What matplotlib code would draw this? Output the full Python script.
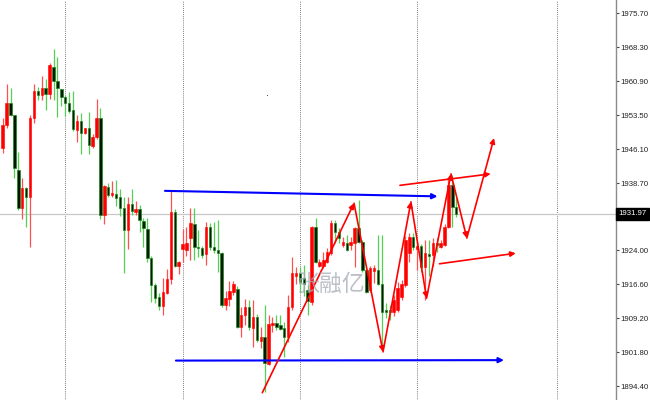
import numpy as np
import matplotlib
matplotlib.use("Agg")
import matplotlib.pyplot as plt

# ── bar data (oldest first) ────────────────────────────────────────────────
opens = [1946.4, 1951.4, 1956.1, 1953.5, 1941.5, 1933.2, 1937.6, 1935.7, 1952.8, 1958.8,
         1957.8, 1959.4, 1958.2, 1963.9, 1960.9, 1959.1, 1957.4, 1956.1, 1954.6, 1950.3,
         1952.3, 1949.7, 1950.8, 1946.8, 1948.7, 1952.8, 1931.7, 1937.9, 1936.1, 1936.3,
         1935.6, 1933.2, 1928.5, 1934.1, 1932.4, 1933.0, 1930.5, 1928.6, 1922.3, 1916.5,
         1913.9, 1911.9, 1914.8, 1917.7, 1932.3, 1920.7, 1924.3, 1924.1, 1926.8, 1929.8,
         1924.8, 1924.5, 1923.2, 1929.2, 1924.8, 1924.1, 1923.5, 1912.1, 1913.4, 1915.0,
         1915.7, 1907.4, 1909.9, 1911.6, 1907.2, 1909.6, 1904.3, 1905.2, 1899.2, 1907.7,
         1908.1, 1907.7, 1907.0, 1905.1, 1911.7, 1918.5, 1919.0, 1917.9, 1915.4, 1912.8,
         1929.2, 1920.7, 1920.6, 1921.5, 1923.4, 1929.9, 1928.1, 1925.3, 1925.6, 1925.2,
         1925.6, 1928.8, 1925.9, 1919.7, 1915.4, 1919.5, 1919.7, 1916.8, 1911.0, 1910.9,
         1910.6, 1911.0, 1913.9, 1916.5, 1923.4, 1927.0, 1924.3, 1925.0, 1920.4, 1923.2,
         1923.0, 1925.6, 1924.8, 1925.2, 1929.2, 1938.3, 1933.5]
highs = [1952.8, 1960.3, 1959.4, 1953.6, 1945.4, 1939.9, 1937.8, 1953.5, 1960.3, 1959.6,
         1962.0, 1961.4, 1964.8, 1967.9, 1966.1, 1959.2, 1957.9, 1958.5, 1958.8, 1953.5,
         1953.9, 1950.8, 1954.2, 1949.4, 1957.0, 1955.0, 1938.3, 1938.7, 1939.1, 1939.4,
         1937.3, 1935.7, 1935.7, 1937.5, 1934.8, 1933.9, 1931.0, 1931.0, 1922.8, 1916.9,
         1914.7, 1917.9, 1919.9, 1937.2, 1933.0, 1921.7, 1928.6, 1929.1, 1933.2, 1933.2,
         1928.5, 1925.0, 1930.3, 1929.9, 1930.2, 1930.6, 1923.7, 1915.2, 1917.3, 1917.4,
         1916.3, 1911.7, 1913.4, 1913.2, 1913.2, 1910.1, 1907.4, 1912.1, 1909.9, 1909.6,
         1909.9, 1909.9, 1908.5, 1914.3, 1922.6, 1920.5, 1920.5, 1920.8, 1916.5, 1929.3,
         1931.0, 1922.1, 1923.7, 1924.5, 1930.6, 1930.6, 1928.9, 1927.0, 1927.4, 1927.0,
         1929.1, 1935.0, 1926.3, 1920.2, 1920.6, 1920.8, 1927.4, 1927.4, 1912.5, 1912.1,
         1914.3, 1917.1, 1917.5, 1927.2, 1927.8, 1927.8, 1925.8, 1925.4, 1926.3, 1926.3,
         1926.7, 1926.7, 1926.3, 1929.8, 1939.4, 1940.5, 1935.4]
lows = [1945.2, 1950.7, 1953.3, 1939.8, 1932.8, 1930.9, 1929.1, 1924.8, 1951.8, 1956.8,
        1956.8, 1954.6, 1957.0, 1956.8, 1953.2, 1955.5, 1953.3, 1953.9, 1950.0, 1947.7,
        1945.0, 1949.5, 1945.0, 1946.3, 1948.2, 1930.9, 1929.8, 1935.7, 1935.7, 1933.7,
        1931.5, 1919.1, 1924.3, 1931.7, 1931.7, 1928.0, 1924.8, 1921.5, 1912.8, 1912.6,
        1911.0, 1909.9, 1914.5, 1916.7, 1920.5, 1918.9, 1921.5, 1922.8, 1921.9, 1921.9,
        1922.6, 1922.3, 1920.8, 1924.1, 1923.4, 1919.4, 1911.7, 1911.0, 1911.9, 1914.3,
        1907.1, 1905.2, 1907.8, 1906.7, 1903.0, 1904.0, 1902.7, 1893.2, 1899.0, 1906.3,
        1906.7, 1906.7, 1900.8, 1904.0, 1911.0, 1916.8, 1915.0, 1914.1, 1909.9, 1912.1,
        1921.2, 1920.4, 1920.2, 1921.3, 1923.0, 1925.6, 1925.6, 1924.8, 1923.9, 1924.1,
        1920.5, 1925.6, 1919.3, 1914.7, 1914.9, 1916.9, 1916.5, 1902.5, 1909.3, 1908.8,
        1909.7, 1910.5, 1913.2, 1916.0, 1921.5, 1924.1, 1919.7, 1919.3, 1913.2, 1918.4,
        1920.6, 1923.7, 1924.5, 1925.0, 1928.9, 1929.2, 1931.3]
closes = [1951.4, 1956.1, 1953.5, 1941.9, 1933.3, 1937.7, 1935.7, 1952.8, 1958.8, 1958.0,
          1959.4, 1958.1, 1964.4, 1961.0, 1959.4, 1957.4, 1956.1, 1954.5, 1950.4, 1952.3,
          1949.6, 1950.6, 1947.0, 1948.8, 1952.8, 1931.7, 1938.1, 1936.1, 1936.5, 1935.4,
          1933.2, 1928.5, 1934.1, 1932.7, 1933.0, 1930.6, 1928.8, 1922.3, 1916.5, 1913.6,
          1911.9, 1914.9, 1917.8, 1932.3, 1920.7, 1921.5, 1925.4, 1925.7, 1929.9, 1924.8,
          1924.5, 1923.0, 1929.2, 1924.8, 1924.0, 1923.5, 1912.1, 1913.6, 1915.2, 1916.7,
          1907.4, 1909.9, 1911.6, 1907.4, 1909.6, 1904.5, 1905.2, 1899.4, 1908.0, 1908.1,
          1907.4, 1906.8, 1905.1, 1911.7, 1919.0, 1919.0, 1917.2, 1916.8, 1913.0, 1929.2,
          1921.5, 1921.5, 1921.9, 1923.7, 1929.9, 1928.1, 1926.7, 1925.9, 1924.1, 1925.8,
          1928.8, 1925.9, 1919.7, 1915.0, 1920.2, 1920.1, 1916.8, 1910.6, 1910.6, 1910.6,
          1913.2, 1915.8, 1916.8, 1926.3, 1927.0, 1924.8, 1924.9, 1920.4, 1923.4, 1922.9,
          1925.6, 1925.2, 1925.7, 1929.2, 1938.3, 1933.5, 1931.97]

last_price = 1931.97
tick_values = [1975.70, 1968.30, 1960.90, 1953.50, 1946.10, 1938.70,
               1924.00, 1916.60, 1909.20, 1901.80, 1894.40]
tick_labels = ["1975.70", "1968.30", "1960.90", "1953.50", "1946.10", "1938.70",
               "1924.00", "1916.60", "1909.20", "1901.80", "1894.40"]
separator_bars = [16, 46, 76, 106, 141.7]

# hand-drawn objects: (bar, price) start -> end
blue_lines = [((41.5, 1937.0), (111.2, 1935.8)),
              ((44.3, 1900.0), (128.2, 1900.1))]
zigzag_bar = [66.4, 89.85, 97.26, 104.4, 108.4, 114.65, 118.7, 125.65]
zigzag_px = [1893.0, 1934.3, 1901.9, 1934.6, 1913.6, 1940.7, 1926.7, 1948.5]
red_lines = [((101.6, 1938.2), (124.8, 1940.7)),
             ((111.7, 1921.1), (131.2, 1923.4))]

# ── figure ─────────────────────────────────────────────────────────────────
fig = plt.figure(figsize=(6.5, 4.0), dpi=100)
ax = fig.add_axes([0, 0, 616 / 650, 1])
ax.set_xlim(-0.69, 156.85)
ax.set_ylim(1891.41, 1978.60)

for s in ["top", "left", "bottom"]:
    ax.spines[s].set_visible(False)
ax.spines["right"].set_color("#8c8c8c")
ax.spines["right"].set_linewidth(1.0)
ax.set_xticks([])
ax.yaxis.tick_right()
ax.set_yticks(tick_values)
ax.set_yticklabels(tick_labels)
ax.tick_params(axis="y", length=2, width=0.8, color="#444444", pad=1.2,
               labelsize=5.6, labelcolor="#222222")
for lab in ax.get_yticklabels():
    lab.set_fontfamily("Liberation Sans")

# period separators and current price line
for b in separator_bars:
    ax.axvline(b, color="#555555", lw=0.6, ls=(0, (1, 1.5)), zorder=1)
ax.axhline(last_price, color="#c8c8c8", lw=0.9, zorder=1)

# candles
x = np.arange(len(opens))
o = np.array(opens); h = np.array(highs); l = np.array(lows); c = np.array(closes)
up = c >= o
ax.vlines(x[up], l[up], h[up], color="#ff5050", lw=0.9, zorder=2)
ax.vlines(x[~up], l[~up], h[~up], color="#55d055", lw=0.9, zorder=2)
body_lo = np.minimum(o, c)
body_h = np.maximum(np.abs(c - o), 0.35)
ax.bar(x[up], body_h[up], bottom=body_lo[up], width=0.62,
       color="#ff0000", edgecolor="#ff0000", lw=0.4, zorder=3)
ax.bar(x[~up], body_h[~up], bottom=body_lo[~up], width=0.62,
       color="#001a00", edgecolor="#1f8a1f", lw=0.5, zorder=3)

# stray dot
ax.plot([67.6], [1957.9], marker="s", ms=0.7, color="#555555", mew=0, zorder=3)

def arrow(p0, p1, color, lw, head=7.5):
    ax.annotate("", xy=p1, xytext=p0,
                arrowprops=dict(arrowstyle="-|>", color=color, lw=lw,
                                mutation_scale=head, shrinkA=0, shrinkB=0),
                zorder=5)

for p0, p1 in blue_lines:
    arrow(p0, p1, "#0000ff", 1.5)
for i in range(len(zigzag_bar) - 1):
    arrow((zigzag_bar[i], zigzag_px[i]), (zigzag_bar[i + 1], zigzag_px[i + 1]),
          "#ff0000", 1.2)
for p0, p1 in red_lines:
    arrow(p0, p1, "#ff0000", 1.2)

# watermark
ax.text(84.0, 1916.6, "张融亿", fontsize=16.5, color="#a3abb4", alpha=0.75,
        family=["Noto Sans CJK SC", "DejaVu Sans"], ha="center", va="center", zorder=6)

# current price label
ax.annotate("1931.97", xy=(1.0, last_price), xycoords=("axes fraction", "data"),
            xytext=(2, 0), textcoords="offset points", ha="left", va="center",
            fontsize=5.6, family="Liberation Sans", color="white",
            bbox=dict(boxstyle="square,pad=0.3", fc="black", ec="black"),
            annotation_clip=False, zorder=7)

fig.savefig("out.png", dpi=100, facecolor="white")
